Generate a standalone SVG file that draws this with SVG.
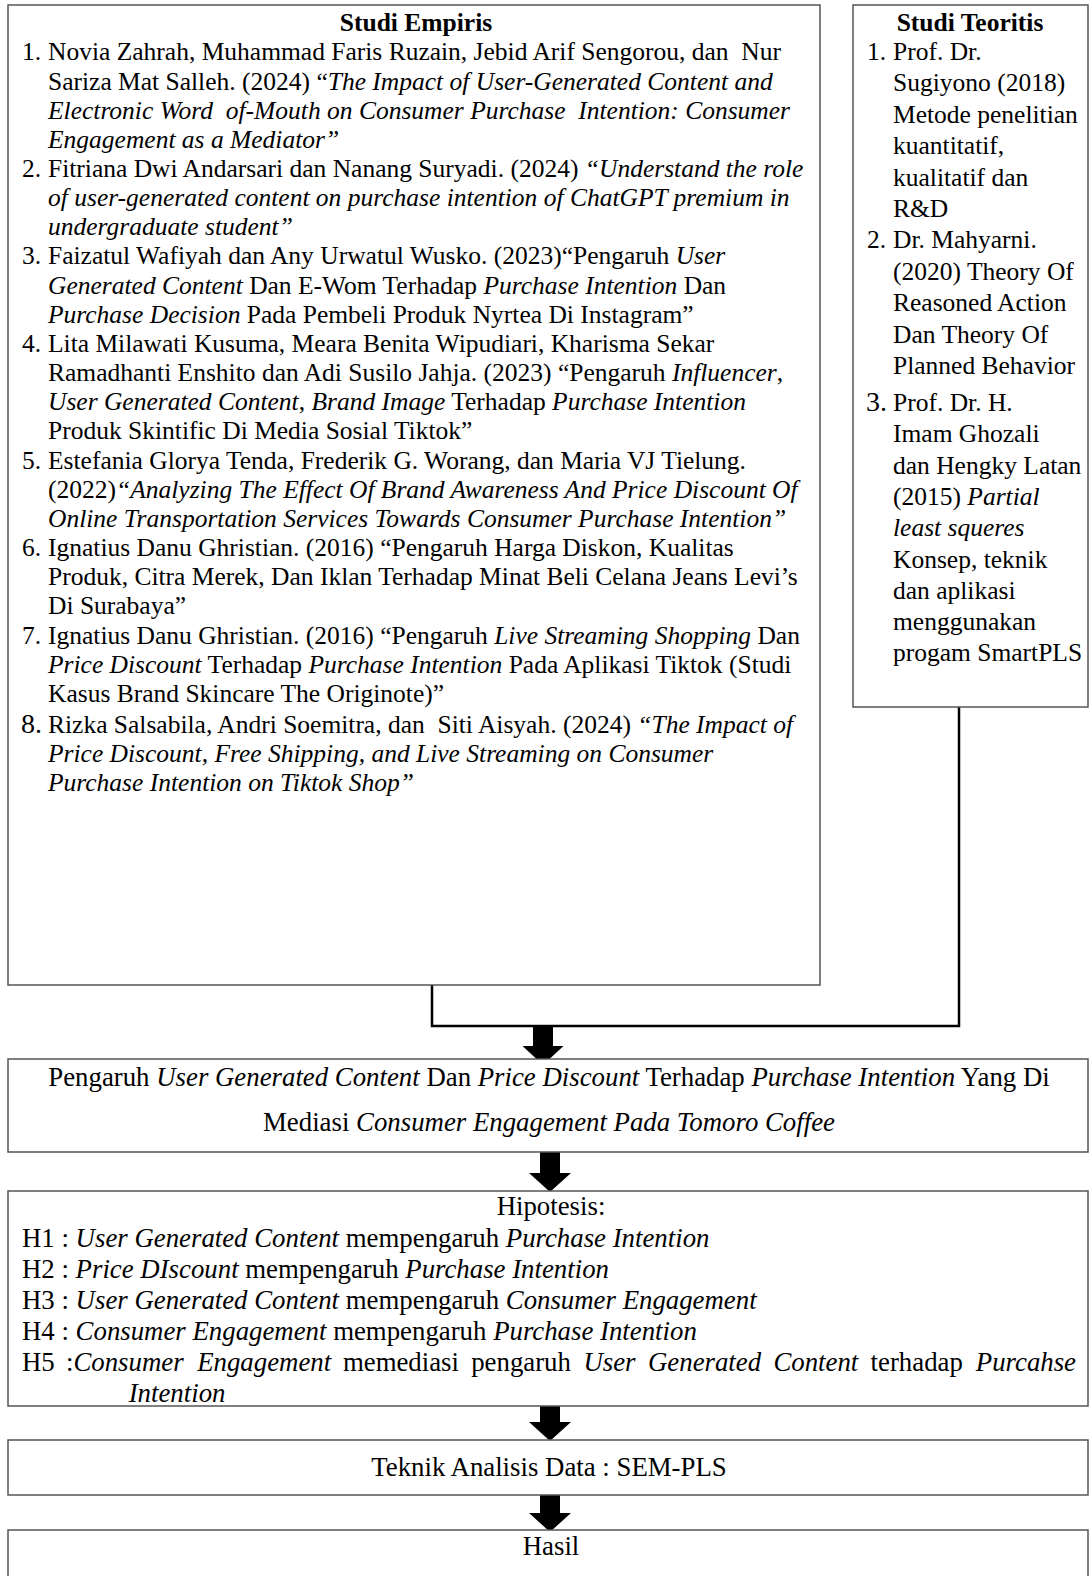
<svg xmlns="http://www.w3.org/2000/svg" width="1089" height="1576" viewBox="0 0 1089 1576">
<style>
.t{font-family:"Liberation Serif","Times New Roman",serif;font-size:25.5px;fill:#000}
.L{font-size:26.8px}
.i{font-style:italic}
.b{font-weight:bold}
.m{text-anchor:middle}
.e{text-anchor:end}
.box{fill:#fff;stroke:#555;stroke-width:1.5}
.conn{stroke:#000;stroke-width:2.5;fill:none}
.arrow{fill:#000}
</style>
<rect width="1089" height="1576" fill="#fff"/>
<g id="connectors">
<polyline class="conn" points="432,985 432,1026 959,1026 959,707"/>
<path class="arrow" d="M533,1026 H553 V1046 H563.5 L543,1065 L522.5,1046 H533 Z"/>
<path class="arrow" d="M540,1152 H560 V1173 H571 L550,1192 L529,1173 H540 Z"/>
<path class="arrow" d="M540,1406 H560 V1422 H571 L550,1441 L529,1422 H540 Z"/>
<path class="arrow" d="M540,1495 H560 V1513 H571 L550,1532 L529,1513 H540 Z"/>
</g>
<g id="studi-empiris">
<rect class="box" x="8" y="5" width="812" height="980"/>
<text class="t b m" x="416" y="30.5">Studi Empiris</text>
<text class="t" x="22" y="60.3">1.</text>
<text class="t" x="48" y="60.3">Novia Zahrah, Muhammad Faris Ruzain, Jebid Arif Sengorou, dan&#160; Nur</text>
<text class="t" x="48" y="89.5">Sariza Mat Salleh. (2024) “<tspan class="i">The Impact of User-Generated Content and</tspan></text>
<text class="t i" x="48" y="118.6">Electronic Word&#160; of-Mouth on Consumer Purchase&#160; Intention: Consumer</text>
<text class="t i" x="48" y="147.8">Engagement as a Mediator”</text>
<text class="t" x="22" y="177">2.</text>
<text class="t" x="48" y="177">Fitriana Dwi Andarsari dan Nanang Suryadi. (2024) <tspan class="i">“Understand the role</tspan></text>
<text class="t i" x="48" y="206.1">of user-generated content on purchase intention of ChatGPT premium in</text>
<text class="t i" x="48" y="235.3">undergraduate student”</text>
<text class="t" x="22" y="264.4">3.</text>
<text class="t" x="48" y="264.4">Faizatul Wafiyah dan Any Urwatul Wusko. (2023)“Pengaruh <tspan class="i">User</tspan></text>
<text class="t" x="48" y="293.6"><tspan class="i">Generated Content</tspan> Dan E-Wom Terhadap <tspan class="i">Purchase Intention</tspan> Dan</text>
<text class="t" x="48" y="322.7"><tspan class="i">Purchase Decision</tspan> Pada Pembeli Produk Nyrtea Di Instagram”</text>
<text class="t" x="22" y="351.9">4.</text>
<text class="t" x="48" y="351.9">Lita Milawati Kusuma, Meara Benita Wipudiari, Kharisma Sekar</text>
<text class="t" x="48" y="381.1">Ramadhanti Enshito dan Adi Susilo Jahja. (2023) “Pengaruh <tspan class="i">Influencer</tspan>,</text>
<text class="t" x="48" y="410.2"><tspan class="i">User Generated Content</tspan>, <tspan class="i">Brand Image</tspan> Terhadap <tspan class="i">Purchase Intention</tspan></text>
<text class="t" x="48" y="439.4">Produk Skintific Di Media Sosial Tiktok”</text>
<text class="t" x="22" y="468.5">5.</text>
<text class="t" x="48" y="468.5">Estefania Glorya Tenda, Frederik G. Worang, dan Maria VJ Tielung.</text>
<text class="t" x="48" y="497.7">(2022)<tspan class="i">“Analyzing The Effect Of Brand Awareness And Price Discount Of</tspan></text>
<text class="t i" x="48" y="526.9">Online Transportation Services Towards Consumer Purchase Intention”</text>
<text class="t" x="22" y="556">6.</text>
<text class="t" x="48" y="556">Ignatius Danu Ghristian. (2016) “Pengaruh Harga Diskon, Kualitas</text>
<text class="t" x="48" y="585.2">Produk, Citra Merek, Dan Iklan Terhadap Minat Beli Celana Jeans Levi’s</text>
<text class="t" x="48" y="614.3">Di Surabaya”</text>
<text class="t" x="22" y="643.5">7.</text>
<text class="t" x="48" y="643.5">Ignatius Danu Ghristian. (2016) “Pengaruh <tspan class="i">Live Streaming Shopping</tspan> Dan</text>
<text class="t" x="48" y="672.7"><tspan class="i">Price Discount</tspan> Terhadap <tspan class="i">Purchase Intention</tspan> Pada Aplikasi Tiktok (Studi</text>
<text class="t" x="48" y="701.8">Kasus Brand Skincare The Originote)”</text>
<text class="t" x="21" y="733" style="font-size:28px">8.</text>
<text class="t" x="48" y="733">Rizka Salsabila, Andri Soemitra, dan&#160; Siti Aisyah. (2024) <tspan class="i">“The Impact of</tspan></text>
<text class="t i" x="48" y="762.2">Price Discount, Free Shipping, and Live Streaming on Consumer</text>
<text class="t i" x="48" y="791.3">Purchase Intention on Tiktok Shop”</text>
</g>
<g id="studi-teoritis">
<rect class="box" x="853" y="5" width="235" height="702"/>
<text class="t b m" x="970" y="30.5">Studi Teoritis</text>
<text class="t" x="867" y="60">1.</text>
<text class="t" x="893" y="60">Prof. Dr.</text>
<text class="t" x="893" y="91.4">Sugiyono (2018)</text>
<text class="t" x="893" y="122.8">Metode penelitian</text>
<text class="t" x="893" y="154.2">kuantitatif,</text>
<text class="t" x="893" y="185.6">kualitatif dan</text>
<text class="t" x="893" y="217">R&amp;D</text>
<text class="t" x="867" y="248.4">2.</text>
<text class="t" x="893" y="248.4">Dr. Mahyarni.</text>
<text class="t" x="893" y="279.8">(2020) Theory Of</text>
<text class="t" x="893" y="311.2">Reasoned Action</text>
<text class="t" x="893" y="342.6">Dan Theory Of</text>
<text class="t" x="893" y="374">Planned Behavior</text>
<text class="t" x="866" y="411" style="font-size:28px">3.</text>
<text class="t" x="893" y="411">Prof. Dr. H.</text>
<text class="t" x="893" y="442.3">Imam Ghozali</text>
<text class="t" x="893" y="473.6">dan Hengky Latan</text>
<text class="t" x="893" y="504.9">(2015) <tspan class="i">Partial</tspan></text>
<text class="t i" x="893" y="536.2">least squeres</text>
<text class="t" x="893" y="567.5">Konsep, teknik</text>
<text class="t" x="893" y="598.8">dan aplikasi</text>
<text class="t" x="893" y="630.1">menggunakan</text>
<text class="t" x="893" y="661.4">progam SmartPLS</text>
</g>
<g id="judul">
<rect class="box" x="8" y="1059" width="1080" height="93"/>
<text class="t L m" x="549" y="1086">Pengaruh <tspan class="i">User Generated Content</tspan> Dan <tspan class="i">Price Discount</tspan> Terhadap <tspan class="i">Purchase Intention</tspan> Yang Di</text>
<text class="t L m" x="549" y="1131">Mediasi <tspan class="i">Consumer Engagement Pada Tomoro Coffee</tspan></text>
</g>
<g id="hipotesis">
<rect class="box" x="8" y="1191" width="1080" height="215"/>
<text class="t L m" x="551" y="1215">Hipotesis:</text>
<text class="t L" x="22" y="1247">H1 : <tspan class="i">User Generated Content</tspan> mempengaruh <tspan class="i">Purchase Intention</tspan></text>
<text class="t L" x="22" y="1278">H2 : <tspan class="i">Price DIscount</tspan> mempengaruh <tspan class="i">Purchase Intention</tspan></text>
<text class="t L" x="22" y="1309">H3 : <tspan class="i">User Generated Content</tspan> mempengaruh <tspan class="i">Consumer Engagement</tspan></text>
<text class="t L" x="22" y="1340">H4 : <tspan class="i">Consumer Engagement</tspan> mempengaruh <tspan class="i">Purchase Intention</tspan></text>
<text class="t L" y="1371"><tspan x="22">H5</tspan><tspan x="66">:</tspan><tspan class="i">Consumer</tspan><tspan class="i" x="197.2">Engagement</tspan><tspan x="342.9">memediasi</tspan><tspan x="471.2">pengaruh</tspan><tspan class="i" x="583.4">User</tspan><tspan class="i" x="648">Generated</tspan><tspan class="i" x="773.4">Content</tspan><tspan x="870.6">terhadap</tspan></text>
<text class="t L i e" x="1076" y="1371">Purcahse</text>
<text class="t L i" x="128.7" y="1402">Intention</text>
</g>
<g id="teknik">
<rect class="box" x="8" y="1440" width="1080" height="55"/>
<text class="t L m" x="549" y="1476">Teknik Analisis Data : SEM-PLS</text>
</g>
<g id="hasil">
<rect class="box" x="8" y="1530" width="1080" height="60"/>
<text class="t L m" x="551" y="1555">Hasil</text>
</g>
</svg>
